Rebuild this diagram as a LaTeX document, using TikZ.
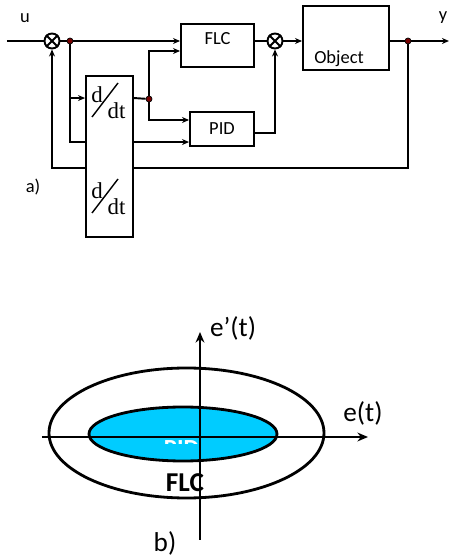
\documentclass[tikz,border=0pt]{standalone}
\usepackage{fontspec}
\setmainfont{Carlito}
\newfontfamily\serifdt{Liberation Serif}
\usetikzlibrary{arrows.meta, calc}

\definecolor{dotred}{RGB}{120,0,0}
\definecolor{pidblue}{RGB}{0,204,255}

\begin{document}
\begin{tikzpicture}[>={Stealth[length=4pt,width=3.4pt]}, line width=1.1pt,
  blk/.style={draw, rectangle, inner sep=0pt},
  summ/.style={draw, circle, minimum size=0.3cm, inner sep=0pt},
  dot/.style={draw, circle, fill=dotred, minimum size=0.12cm, inner sep=0pt, line width=0.4pt},
  lbl/.style={inner sep=0pt, font=\fontsize{10.5}{12}\selectfont},
  dtxt/.style={inner sep=0pt, font=\serifdt\fontsize{13}{14}\selectfont},
  big/.style={inner sep=0pt, font=\fontsize{15.5}{18}\selectfont}]
  \useasboundingbox (0,0) rectangle (9,11.16);

  % a) block scheme
  \node[summ] (sum1) at (1.04,10.34) {};
  \draw (sum1.45) -- (sum1.225) (sum1.135) -- (sum1.315);
  \node[summ] (sum2) at (5.5,10.34) {};
  \draw (sum2.45) -- (sum2.225) (sum2.135) -- (sum2.315);
  \node[dot] (j1) at (1.4,10.34) {};
  \node[dot] (j2) at (2.98,9.18) {};
  \node[dot] (ydot) at (8.16,10.34) {};
  \node[blk, minimum width=1.46cm, minimum height=0.86cm] (flc) at (4.35,10.25) {};
  \node[lbl] (flctxt) at (4.35,10.38) {FLC};
  \node[blk, minimum width=1.28cm, minimum height=0.68cm, lbl] (pid) at (4.44,8.58) {PID};
  \node[blk, minimum width=1.72cm, minimum height=1.28cm] (obj) at (6.92,10.40) {};
  \node[lbl] (objtxt) at (6.78,9.98) {Object};
  \node[blk, minimum width=0.94cm, minimum height=3.22cm] (ddt) at (2.19,8.03) {};
  \foreach \yy/\nm in {0/up, 1.92/low} {
    \node[dtxt] (d-\nm) at (1.94,9.26-\yy) {d};
    \node[dtxt] (dt-\nm) at (2.33,8.95-\yy) {dt};
    \draw[line width=0.8pt] (2.36,9.5-\yy) -- (1.84,8.82-\yy);
  }
  \node[lbl] (u) at (0.5,10.8) {u};
  \node[lbl] (y) at (8.86,10.8) {y};
  \node[lbl] (a) at (0.66,7.42) {a)};

  \coordinate (in) at (0.14,10.34);
  \coordinate (out) at (8.98,10.34);
  \coordinate (dinL) at ([yshift=-0.46cm]ddt.north west);
  \coordinate (dinR) at ([yshift=-0.46cm]ddt.north east);
  \coordinate (eL) at ([yshift=-1.34cm]ddt.north west);
  \coordinate (eR) at ([yshift=-1.34cm]ddt.north east);
  \coordinate (fbL) at ([yshift=-1.86cm]ddt.north west);
  \coordinate (fbR) at ([yshift=-1.86cm]ddt.north east);

  \draw (in) -- (sum1.west);
  \draw (sum1.east) -- (j1);
  \draw[->] (j1) -- (flc.west |- j1);
  \draw[->] (j1) |- (dinL);
  \draw (j1) |- (eL);
  \draw[->] (eR) -- (eR -| pid.west);
  \draw (dinR) -- (j2);
  \draw[->] (j2) |- ([yshift=-0.11cm]flc.west);
  \draw[->] (j2) |- ([yshift=0.18cm]pid.west);
  \draw (flc.east |- sum2) -- (sum2.west);
  \draw[->] ([yshift=-0.08cm]pid.east) -| (sum2.south);
  \draw[->] (sum2.east) -- (obj.west |- sum2);
  \draw (obj.east |- ydot) -- (ydot);
  \draw[->] (ydot) -- (out);
  \draw (ydot) |- (fbR);
  \draw[->] (fbL) -| (sum1.south);

  % b) phase plane
  \draw[line width=1.6pt] (3.73,2.5) ellipse (2.75 and 1.3);
  \draw[line width=1.6pt, fill=pidblue] (3.66,2.48) ellipse (1.88 and 0.54);
  \begin{scope}
    \clip (3.0,2.29) rectangle (4.0,2.45);
    \node[big, text=white, font=\bfseries\fontsize{14}{16}\selectfont] (pidtxt) at (3.63,2.19) {PID};
  \end{scope}
  \node[big, font=\bfseries\fontsize{15.5}{18}\selectfont] (flcb) at (3.7,1.5) {FLC};
  \draw[->, line width=1.2pt, >={Stealth[length=6pt,width=5pt]}] (0.84,2.42) -- (7.36,2.42);
  \draw[->, line width=1.2pt, >={Stealth[length=6pt,width=5pt]}] (4.0,0.36) -- (4.0,4.52);
  \node[big] (ep) at (4.66,4.6) {e’(t)};
  \node[big] (e) at (7.26,2.9) {e(t)};
  \node[big] (b) at (3.3,0.3) {b)};
\end{tikzpicture}
\end{document}
